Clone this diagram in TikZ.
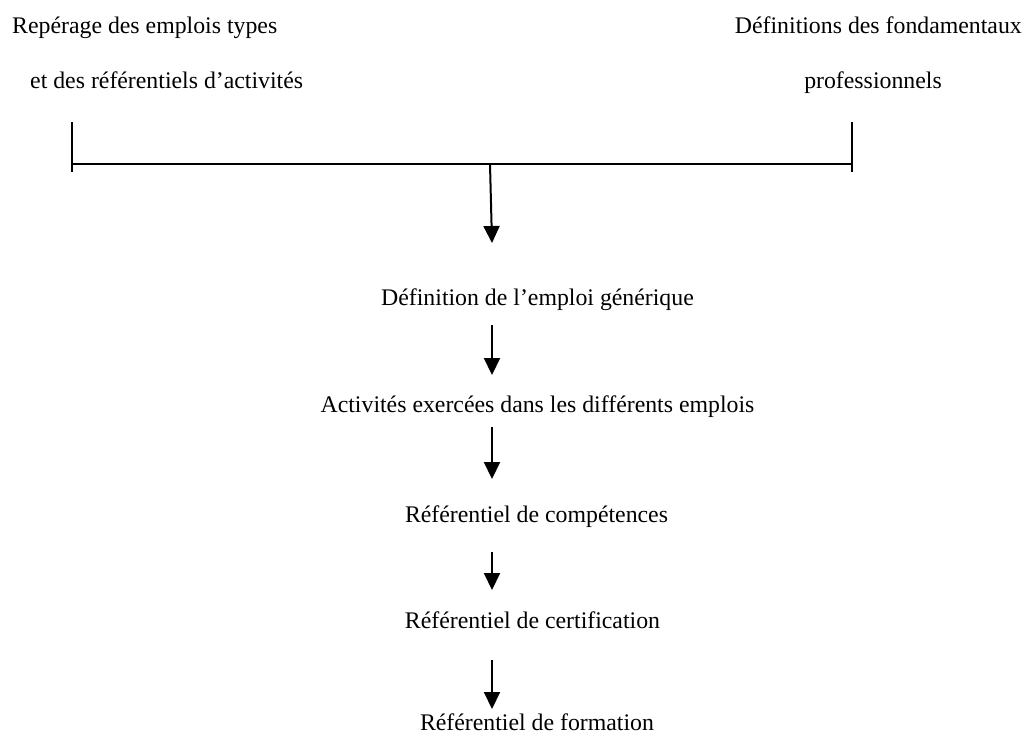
\documentclass[tikz,border=0pt]{standalone}
\usepackage{fontspec}
\setmainfont{Liberation Serif}
\usetikzlibrary{arrows.meta}
\tikzset{
  lbl/.style={inner sep=0pt, font=\fontsize{23.8}{28}\selectfont, anchor=base},
  lblw/.style={lbl, anchor=base west},
  lble/.style={lbl, anchor=base east},
  brk/.style={line width=2pt},
  flow/.style={line width=2pt, -{Triangle[width=16pt,length=17pt]}}
}
\begin{document}
\begin{tikzpicture}[x=1pt,y=-1pt]
\useasboundingbox (0,0) rectangle (1025,740);
% top texts
\node[lblw] (l1) at (12,33) {Repérage des emplois types};
\node[lblw] (l2) at (30,88) {et des référentiels d’activités};
\node[lble] (r1) at (1022,33) {Définitions des fondamentaux};
\node[lbl] (r2) at (873,88) {professionnels};
% bracket
\coordinate (bl) at (72,122);
\coordinate (blb) at (72,172);
\coordinate (br) at (852,122);
\coordinate (brb) at (852,172);
\coordinate (hl) at (72,164);
\coordinate (hr) at (852,164);
\coordinate (hm) at (490,164);
\draw[brk] (bl) -- (blb);
\draw[brk] (br) -- (brb);
\draw[brk] (hl) -- (hr);
% chain texts
\node[lbl] (n1) at (537.5,305) {Définition de l’emploi générique};
\node[lbl] (n2) at (537.5,412) {Activités exercées dans les différents emplois};
\node[lbl] (n3) at (536.5,522) {Référentiel de compétences};
\node[lbl] (n4) at (532.5,628) {Référentiel de certification};
\node[lbl] (n5) at (537,730) {Référentiel de formation};
% arrows
\coordinate (a1e) at (492,243);
\coordinate (a2s) at (492,325); \coordinate (a2e) at (492,375);
\coordinate (a3s) at (492,427); \coordinate (a3e) at (492,479);
\coordinate (a4s) at (492,552); \coordinate (a4e) at (492,590);
\coordinate (a5s) at (492,660); \coordinate (a5e) at (492,709);
\draw[flow] (hm) -- (a1e);
\draw[flow] (a2s) -- (a2e);
\draw[flow] (a3s) -- (a3e);
\draw[flow] (a4s) -- (a4e);
\draw[flow] (a5s) -- (a5e);
\end{tikzpicture}
\end{document}
